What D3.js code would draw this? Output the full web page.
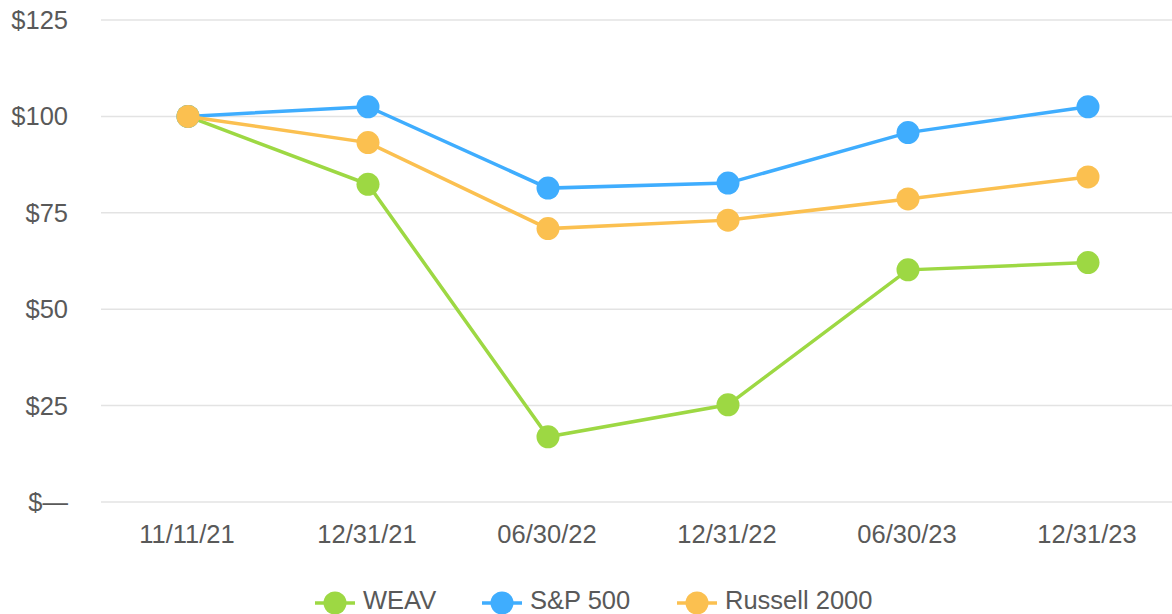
<!DOCTYPE html>
<html>
<head>
<meta charset="utf-8">
<script src="https://cdn.jsdelivr.net/npm/d3@7"></script>
<style>
  body { margin: 0; background: #fff; }
  text { font-family: "Liberation Sans", Arial, sans-serif; fill: #595959; }
</style>
</head>
<body>
<svg id="chart" width="1172" height="614"></svg>
<script>
'use strict';

var dates = ['11/11/21', '12/31/21', '06/30/22', '12/31/22', '06/30/23', '12/31/23'];
var weav = [100, 82.4, 16.9, 25.2, 60.2, 62.1];
var sp500 = [100, 102.5, 81.4, 82.7, 95.8, 102.5];
var russell = [100, 93.2, 70.9, 73.1, 78.6, 84.3];
var yTicks = [0, 25, 50, 75, 100, 125];

var series = [
    { name: 'WEAV', values: weav, color: '#9dd843' },
    { name: 'S&P 500', values: sp500, color: '#3fadfe' },
    { name: 'Russell 2000', values: russell, color: '#fbc050' }
];

var svg = d3.select('#chart');

var x = d3.scalePoint().domain(dates).range([98, 1178]).padding(0.5);
var y = d3.scaleLinear().domain([0, 125]).range([502, 20]);

// gridlines
svg.append('g').selectAll('line').data(yTicks).join('line')
    .attr('x1', 101).attr('x2', 1172)
    .attr('y1', function (d) { return y(d); })
    .attr('y2', function (d) { return y(d); })
    .attr('stroke', '#e3e3e3').attr('stroke-width', 1.5);

// y labels
svg.append('g').selectAll('text').data(yTicks).join('text')
    .attr('x', 68).attr('y', function (d) { return y(d); })
    .attr('dy', '0.35em').attr('text-anchor', 'end')
    .attr('font-size', 25.5)
    .text(function (d) { return d === 0 ? '$\u2014' : '$' + d; });

// x labels
svg.append('g').selectAll('text').data(dates).join('text')
    .attr('x', function (d) { return x(d) - 1; }).attr('y', 543)
    .attr('text-anchor', 'middle').attr('font-size', 25.5)
    .text(function (d) { return d; });

var line = d3.line()
    .x(function (d, i) { return x(dates[i]); })
    .y(function (d) { return y(d); });

series.forEach(function (s) {
    var g = svg.append('g');
    g.append('path').datum(s.values)
        .attr('d', line).attr('fill', 'none')
        .attr('stroke', s.color).attr('stroke-width', 3.5);
    g.selectAll('circle').data(s.values).join('circle')
        .attr('cx', function (d, i) { return x(dates[i]); })
        .attr('cy', function (d) { return y(d); })
        .attr('r', 11.5).attr('fill', s.color);
});

// legend
var legendX = [315, 482, 677];
var legend = svg.append('g');
series.forEach(function (s, i) {
    var lg = legend.append('g').attr('transform', 'translate(' + legendX[i] + ',603)');
    lg.append('line').attr('x1', 0).attr('x2', 40)
        .attr('stroke', s.color).attr('stroke-width', 3.5);
    lg.append('circle').attr('cx', 20).attr('r', 11.5).attr('fill', s.color);
    lg.append('text').attr('x', 48).attr('y', 6)
        .attr('font-size', 25.5).text(s.name);
});
</script>
</body>
</html>
